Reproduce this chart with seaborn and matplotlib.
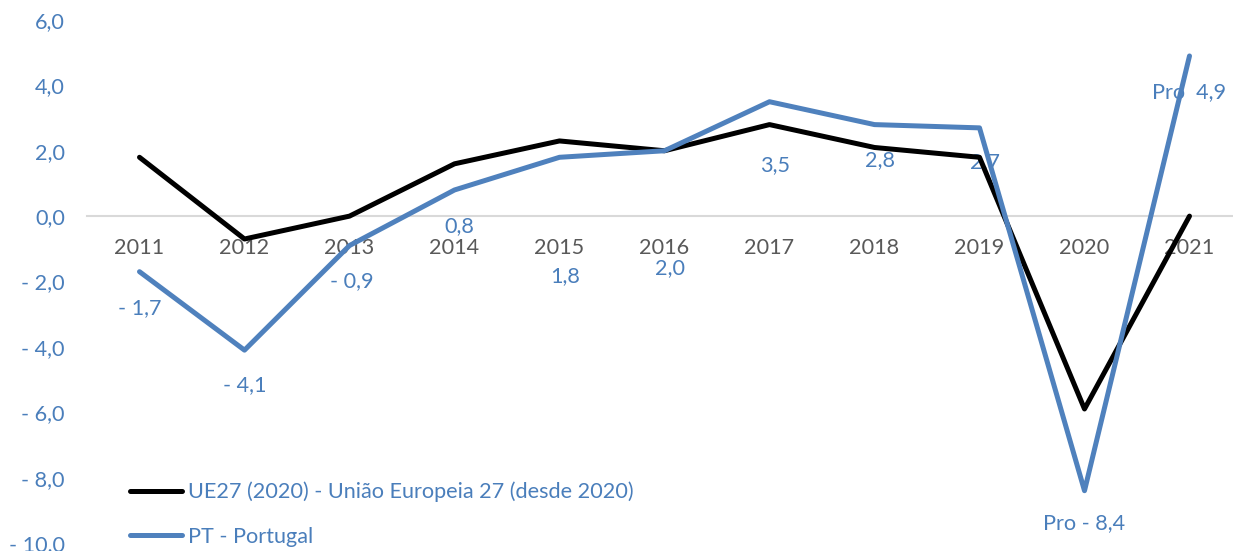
import matplotlib.pyplot as plt
import matplotlib.ticker as mticker
from matplotlib.lines import Line2D
import pandas as pd
import seaborn as sns

# data (GDP growth, %)
years = ["2011", "2012", "2013", "2014", "2015", "2016", "2017", "2018", "2019", "2020", "2021"]
eu27 = [1.8, -0.7, 0.0, 1.6, 2.3, 2.0, 2.8, 2.1, 1.8, -5.9, 0.0]
pt = [-1.7, -4.1, -0.9, 0.8, 1.8, 2.0, 3.5, 2.8, 2.7, -8.4, 4.9]
pt_prefix = ["", "", "", "", "", "", "", "", "", "Pro ", "Pro  "]
series_names = ["UE27 (2020) - União Europeia 27 (desde 2020)", "PT - Portugal"]

# where the Excel data labels sit (data units)
label_y = [-2.81, -5.17, -1.99, -0.31, -1.83, -1.59, 1.56, 1.71, 1.65, -9.39, 3.79]
label_dx = [0.0, 0.0, 0.02, 0.05, 0.05, 0.05, 0.05, 0.05, 0.05, 0.0, 0.0]

blue_line = "#4F81BD"
blue_text = "#4A7EBB"
fs = 15.6

sns.set_style("white")
plt.rcParams['font.family'] = ['Lato', 'DejaVu Sans']

df = pd.DataFrame({
    "x": list(range(len(years))) * 2,
    "val": eu27 + pt,
    "serie": [series_names[0]] * len(years) + [series_names[1]] * len(years),
})

fig = plt.figure(figsize=(12.33, 5.51), dpi=100)
ax = fig.add_axes([87 / 1233, 8 / 551, 1146 / 1233, 523 / 551])

sns.lineplot(data=df, x="x", y="val", hue="serie",
             palette=["black", blue_line], linewidth=3.6,
             legend=False, ax=ax, solid_capstyle="round", solid_joinstyle="round")

ax.set_xlim(-0.5, -0.5 + 1146 / 105)
ax.set_ylim(-10, 6)
ax.set_yticks(range(-10, 7, 2))
ax.yaxis.set_major_formatter(mticker.FuncFormatter(
    lambda v, p: f"{v:.1f}".replace(".", ",") if v >= 0 else "- " + f"{abs(v):.1f}".replace(".", ",")))
ax.set_xticks(range(len(years)))
ax.set_xticklabels(years)
ax.set_xlabel("")
ax.set_ylabel("")

for s in ["top", "right", "left"]:
    ax.spines[s].set_visible(False)
ax.spines["bottom"].set_position(("data", 0))
ax.spines["bottom"].set_color("#D9D9D9")
ax.spines["bottom"].set_linewidth(1.5)
ax.spines["bottom"].set_zorder(0)

ax.tick_params(axis="x", length=0, pad=16, labelsize=fs, labelcolor="#595959")
ax.tick_params(axis="y", length=0, pad=16, labelsize=fs, labelcolor=blue_text)

for i, v in enumerate(pt):
    txt = f"{abs(v):.1f}".replace(".", ",")
    if v < 0:
        txt = "- " + txt
    ax.text(i + label_dx[i], label_y[i], pt_prefix[i] + txt, ha="center", va="center",
            fontsize=fs, color=blue_text, zorder=1)

handles = [Line2D([], [], color="black", lw=3.6, solid_capstyle="round"),
           Line2D([], [], color=blue_line, lw=3.6, solid_capstyle="round")]
leg = ax.legend(handles, series_names, loc="lower left", bbox_to_anchor=(130 / 1233, 4 / 551),
                bbox_transform=fig.transFigure, frameon=False, fontsize=fs,
                handlelength=2.4, handletextpad=0.3, labelspacing=1.15, borderpad=0, borderaxespad=0)
for t in leg.get_texts():
    t.set_color(blue_text)

fig.savefig("out.png", dpi=100)
